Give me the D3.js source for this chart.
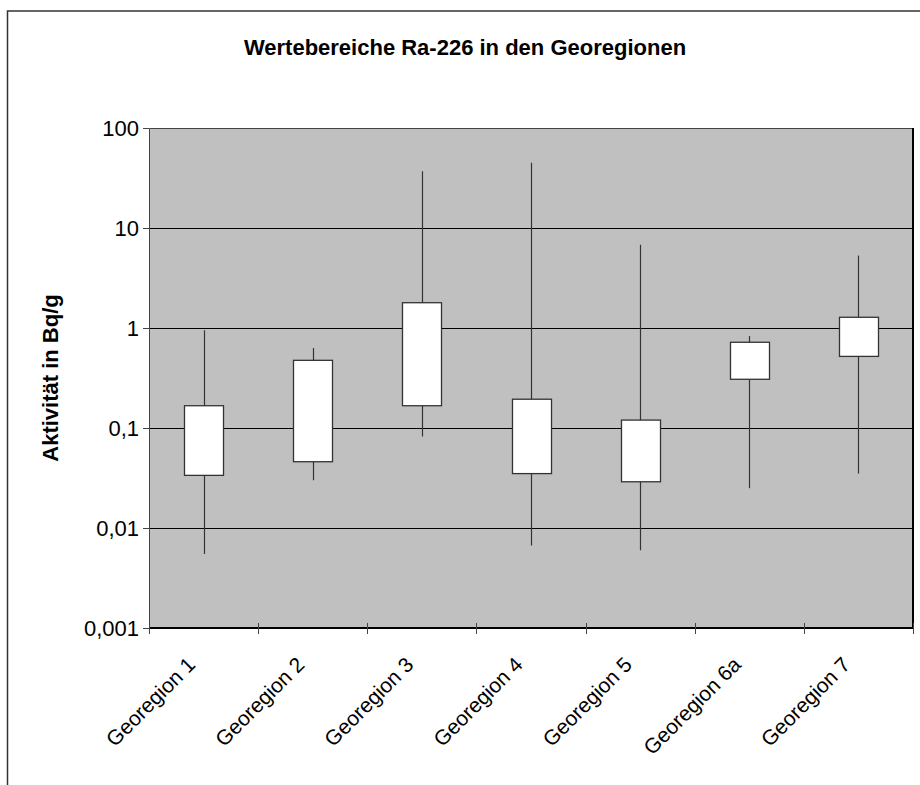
<!DOCTYPE html>
<html>
<head>
<meta charset="utf-8">
<script src="https://cdn.jsdelivr.net/npm/d3@7"></script>
<style>
  body { margin: 0; background: #fff; }
  svg text { font-family: "Liberation Sans", Arial, sans-serif; fill: #000; }
</style>
</head>
<body>
<script>
const categories = ["Georegion 1", "Georegion 2", "Georegion 3", "Georegion 4", "Georegion 5", "Georegion 6a", "Georegion 7"];
const whiskerLow  = [0.0055, 0.030, 0.082, 0.0067, 0.0060, 0.025, 0.035];
const boxLow      = [0.0336, 0.046, 0.167, 0.035, 0.029, 0.307, 0.52];
const boxHigh     = [0.167, 0.475, 1.79, 0.194, 0.120, 0.72, 1.28];
const whiskerHigh = [0.95, 0.63, 37, 45, 6.8, 0.83, 5.3];
const yTicks = [0.001, 0.01, 0.1, 1, 10, 100];
const yTickLabels = ["0,001", "0,01", "0,1", "1", "10", "100"];

const width = 920, height = 785;
const plot = {left: 149, top: 128, right: 913, bottom: 628};

const svg = d3.select("body").append("svg")
    .attr("width", width)
    .attr("height", height);

// outer chart frame (cropped at right/bottom)
svg.append("rect")
    .attr("x", 7.5).attr("y", 11)
    .attr("width", 930).attr("height", 800)
    .attr("fill", "none")
    .attr("stroke", "#333")
    .attr("stroke-width", 1.5);

const x = d3.scaleBand().domain(categories).range([plot.left, plot.right]);
const y = d3.scaleLog().domain([0.001, 100]).range([plot.bottom, plot.top]);

// plot background
svg.append("rect")
    .attr("x", plot.left).attr("y", plot.top)
    .attr("width", plot.right - plot.left)
    .attr("height", plot.bottom - plot.top)
    .attr("fill", "#c0c0c0");

// gridlines
svg.append("g")
    .selectAll("line")
    .data(yTicks.slice(1, -1))
    .enter()
    .append("line")
    .attr("x1", plot.left).attr("x2", plot.right)
    .attr("y1", d => Math.round(y(d)) + 0.5)
    .attr("y2", d => Math.round(y(d)) + 0.5)
    .attr("stroke", "#000")
    .attr("stroke-width", 1);

// plot border
svg.append("path")
    .attr("d", `M${plot.left + 0.5},${plot.bottom} V${plot.top + 0.5} H${plot.right}`)
    .attr("fill", "none").attr("stroke", "#444").attr("stroke-width", 1);
svg.append("path")
    .attr("d", `M${plot.left},${plot.bottom} H${plot.right} V${plot.top}`)
    .attr("fill", "none").attr("stroke", "#000").attr("stroke-width", 2);

// y axis
const yAxis = d3.axisLeft(y)
    .tickValues(yTicks)
    .tickFormat((d, i) => yTickLabels[i])
    .tickSize(6)
    .tickPadding(4);
const gy = svg.append("g")
    .attr("transform", `translate(${plot.left},0)`)
    .call(yAxis);
gy.select(".domain").remove();
gy.selectAll(".tick line").attr("stroke", "#444");
gy.selectAll("text").style("font-size", "22px").attr("fill", "#000");

// x axis ticks at category boundaries (crossing the axis)
const bounds = categories.map(c => x(c)).concat([x.range()[1]]);
svg.append("g")
    .selectAll("line")
    .data(bounds)
    .enter()
    .append("line")
    .attr("x1", d => Math.round(d) + 0.5)
    .attr("x2", d => Math.round(d) + 0.5)
    .attr("y1", plot.bottom - 5)
    .attr("y2", plot.bottom + 6)
    .attr("stroke", "#444");

// x labels
svg.append("g")
    .selectAll("text")
    .data(categories)
    .enter()
    .append("text")
    .attr("transform", d => `translate(${x(d) + x.bandwidth() / 2 - 7},${plot.bottom + 38}) rotate(-45)`)
    .attr("text-anchor", "end")
    .style("font-size", "21px")
    .text(d => d);

// whiskers
const boxW = 39;
const rows = categories.map((c, i) => ({
    cat: c, lo: whiskerLow[i], q1: boxLow[i], q3: boxHigh[i], hi: whiskerHigh[i]
}));
svg.append("g")
    .selectAll("line")
    .data(rows)
    .enter()
    .append("line")
    .attr("x1", d => Math.round(x(d.cat) + x.bandwidth() / 2) + 0.5)
    .attr("x2", d => Math.round(x(d.cat) + x.bandwidth() / 2) + 0.5)
    .attr("y1", d => y(d.lo))
    .attr("y2", d => y(d.hi))
    .attr("stroke", "#333")
    .attr("stroke-width", 1.2);

// boxes
svg.append("g")
    .selectAll("rect")
    .data(rows)
    .enter()
    .append("rect")
    .attr("x", d => Math.round(x(d.cat) + x.bandwidth() / 2 - boxW / 2) + 0.5)
    .attr("y", d => y(d.q3))
    .attr("width", boxW)
    .attr("height", d => y(d.q1) - y(d.q3))
    .attr("fill", "#fff")
    .attr("stroke", "#333")
    .attr("stroke-width", 1.3);

// title
svg.append("text")
    .attr("x", 465)
    .attr("y", 55)
    .attr("text-anchor", "middle")
    .style("font-size", "22px")
    .style("font-weight", "bold")
    .text("Wertebereiche Ra-226 in den Georegionen");

// y axis title
svg.append("text")
    .attr("transform", `translate(58,${(plot.top + plot.bottom) / 2}) rotate(-90)`)
    .attr("text-anchor", "middle")
    .style("font-size", "22px")
    .style("font-weight", "bold")
    .text("Aktivität in Bq/g");
</script>
</body>
</html>
